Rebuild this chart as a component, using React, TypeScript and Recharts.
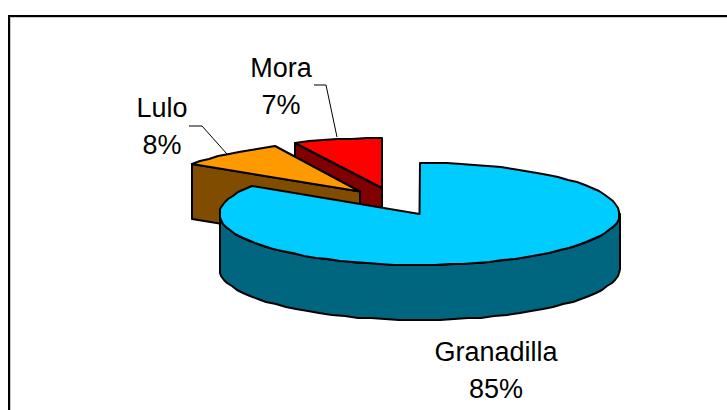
import React from "react";
import { PieChart, Pie, Cell } from "recharts";

const categories = ["Mora", "Lulo", "Granadilla"];
const shares = [7, 8, 85];
const topColors = ["#ff0000", "#ff9900", "#00ccff"];
const sideColors = ["#800000", "#804c00", "#006680"];

const data = categories.map((name, i) => ({ name, value: shares[i] }));

// excel style exploded 3d pie: offset + radii of each slice, in px
// skew = small angle shift the 3d projection puts on the Lulo/Granadilla boundary
const DEPTH = 55;
const SQUASH = 51 / 200;
const BOUNDARY_SKEW = 3;
const slices = [
  { dx: -37.5, dy: -26, scaleX: 1.02, scaleY: 0.98, skewFrom: 0, skewTo: 0 },
  { dx: -59.5, dy: -22.5, scaleX: 1, scaleY: 0.98, skewFrom: 0, skewTo: BOUNDARY_SKEW },
  { dx: 0, dy: 0, scaleX: 1, scaleY: 1, skewFrom: BOUNDARY_SKEW, skewTo: 0 },
];
const labelSpots = [
  { x: 281, y: 77, line: "314,85 326,85 337,137" },
  { x: 162, y: 117, line: "189,126 202,126 227,154" },
  { x: 496, y: 361, line: "" },
];

function arcPoints(cx: number, cy: number, rx: number, ry: number, from: number, to: number) {
  const pts: [number, number][] = [];
  const steps = Math.max(2, Math.round((to - from) / 4));
  for (let i = 0; i <= steps; i++) {
    const a = ((from + ((to - from) * i) / steps) * Math.PI) / 180;
    pts.push([Math.round(cx + rx * Math.cos(a)), Math.round(cy - ry * Math.sin(a))]);
  }
  return pts;
}

const toPath = (pts: [number, number][]) => "M" + pts.map((p) => p.join(",")).join("L") + "Z";

function Slice3D(props: any) {
  const { cx, cy, outerRadius, startAngle, endAngle, fill, index } = props;
  const s = slices[index];
  const x0 = cx + s.dx;
  const y0 = cy + s.dy;
  const rx = outerRadius * s.scaleX;
  const ry = outerRadius * SQUASH * s.scaleY;
  const from = Math.min(startAngle, endAngle) + s.skewFrom;
  const to = Math.max(startAngle, endAngle) + s.skewTo;
  const stroke = { stroke: "#000", strokeWidth: 2, strokeLinejoin: "round" as const };
  const rim = arcPoints(x0, y0, rx, ry, from, to);
  const center: [number, number] = [x0, y0];

  // outer wall, only the part that faces the viewer
  const wallFrom = Math.max(from, 180);
  const wallTo = Math.min(to, 360);
  let wall = null;
  if (wallTo > wallFrom) {
    const top = arcPoints(x0, y0, rx, ry, wallFrom, wallTo);
    const bottom = top.map(([x, y]) => [x, y + DEPTH] as [number, number]).reverse();
    wall = <path d={toPath([...top, ...bottom])} fill={sideColors[index]} {...stroke} />;
  }
  // cut face on the far end of the slice
  const edge = rim[rim.length - 1];
  const face: [number, number][] = [center, edge, [edge[0], edge[1] + DEPTH], [x0, y0 + DEPTH]];

  return (
    <g>
      {index < 2 && <path d={toPath(face)} fill={sideColors[index]} {...stroke} />}
      {wall}
      <path d={toPath([center, ...rim])} fill={fill} {...stroke} />
    </g>
  );
}

function SliceLabel(props: any) {
  const { index, name, percent } = props;
  const spot = labelSpots[index];
  const textStyle = { fontFamily: "Liberation Sans", fontSize: 27, fill: "#000" };
  return (
    <g>
      {spot.line && <polyline points={spot.line} fill="none" stroke="#000" strokeWidth={1} />}
      <text x={spot.x} y={spot.y} textAnchor="middle" {...textStyle}>
        {name}
      </text>
      <text x={spot.x} y={spot.y + 37} textAnchor="middle" {...textStyle}>
        {`${Math.round(percent * 100)}%`}
      </text>
    </g>
  );
}

export default function App() {
  return (
    <div style={{ position: "absolute", left: 0, top: 0, width: 727, height: 410, background: "#fff", overflow: "hidden" }}>
      <div style={{ position: "absolute", left: 8, top: 15, right: 0, bottom: 0, borderLeft: "2px solid #000", borderTop: "2px solid #000" }}>
        <div style={{ position: "absolute", left: 0, top: 0, right: 0, bottom: 0, borderLeft: "1px solid #c8c8c8", borderTop: "1px solid #c8c8c8" }} />
      </div>
      <div style={{ position: "absolute", left: 0, top: 0 }}>
        <PieChart width={727} height={410} margin={{ top: 0, right: 0, bottom: 0, left: 0 }}>
          <Pie
            data={data}
            dataKey="value"
            nameKey="name"
            cx={419.5}
            cy={214}
            outerRadius={200}
            startAngle={90}
            endAngle={450}
            paddingAngle={0}
            isAnimationActive={false}
            shape={Slice3D}
            label={SliceLabel}
            labelLine={false}
          >
            {data.map((_, i) => (
              <Cell key={`cell-${i}`} fill={topColors[i]} />
            ))}
          </Pie>
        </PieChart>
      </div>
    </div>
  );
}
